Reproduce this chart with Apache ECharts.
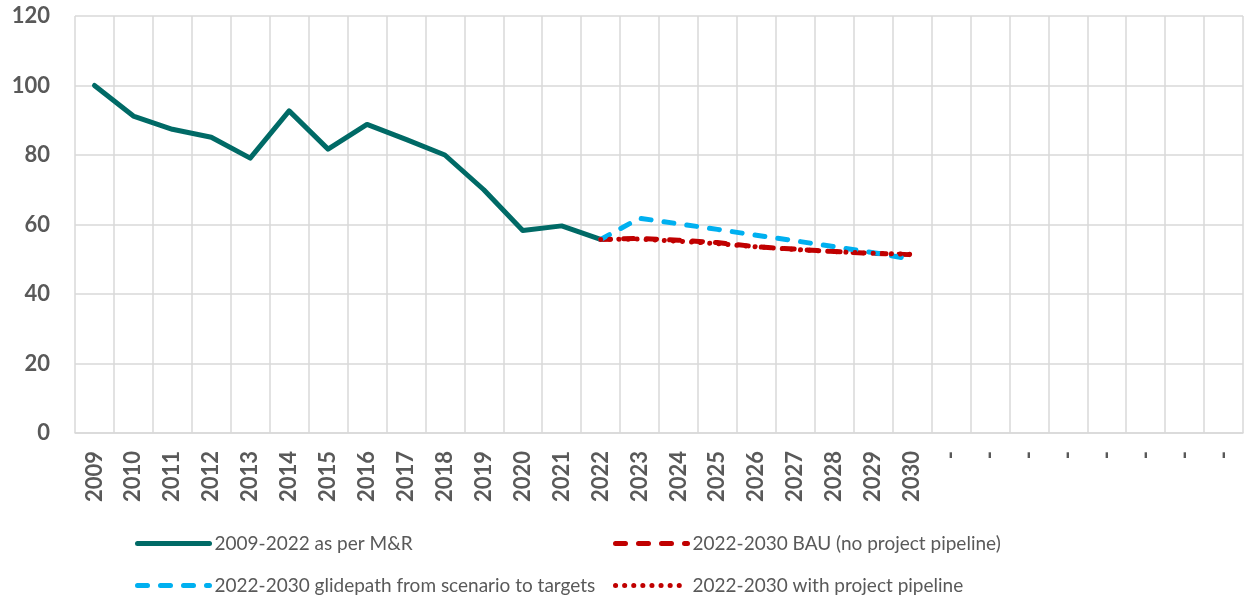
<!DOCTYPE html>
<html>
<head>
<meta charset="utf-8">
<title>Chart</title>
<script src="https://cdn.jsdelivr.net/npm/echarts@6/dist/echarts.min.js"></script>
<style>
	html, body { margin: 0; padding: 0; background: #fff; }
	#chart { width: 1244px; height: 601px; }
</style>
</head>
<body>
<div id="chart"></div>
<script>
	'use strict';
	// x axis: 2009-2030 followed by 8 empty slots
	var years = ['2009', '2010', '2011', '2012', '2013', '2014', '2015', '2016', '2017', '2018', '2019',
		'2020', '2021', '2022', '2023', '2024', '2025', '2026', '2027', '2028', '2029', '2030',
		'-', '-', '-', '-', '-', '-', '-', '-'];

	var mrValues = [100, 91.2, 87.4, 85.1, 79.1, 92.7, 81.7, 88.8, 84.5, 80.0, 70.0, 58.3, 59.6, 55.7];
	var bauValues = [55.7, 56.0, 55.5, 54.8, 53.6, 52.9, 52.2, 51.7, 51.3];
	var glideValues = [55.7, 61.8, 60.2, 58.6, 56.9, 55.3, 53.6, 51.9, 50.0];
	var pipelineValues = [55.7, 55.8, 55.2, 54.5, 53.6, 52.8, 52.2, 51.7, 51.4];

	var yTicks = { min: 0, max: 120, interval: 20 };

	var names = [
		'2009-2022 as per M&R',
		'2022-2030 BAU (no project pipeline)',
		'2022-2030 glidepath from scenario to targets',
		'2022-2030 with project pipeline'
	];

	// put a series on the year axis starting at a given year
	function place(values, startYear) {
		var out = [];
		var start = years.indexOf(startYear);
		for (var i = 0; i < years.length; i++) {
			var k = i - start;
			out.push(k >= 0 && k < values.length ? values[k] : null);
		}
		return out;
	}

	var gridColor = '#d9d9d9';
	var labelFont = 'Lato, "Liberation Sans", sans-serif';
	var lineWidth = 5;

	function legendAt(name, left, top) {
		return {
			data: [name],
			left: left,
			top: top,
			itemWidth: 72,
			itemHeight: 14,
			itemGap: 0,
			padding: 0,
			itemStyle: { opacity: 0 },
			lineStyle: { width: lineWidth, cap: 'round' },
			textStyle: {
				fontFamily: labelFont,
				fontSize: 19,
				color: '#595959'
			}
		};
	}

	function lineSeries(name, data, color, type, z) {
		return {
			name: name,
			type: 'line',
			data: data,
			symbol: 'none',
			z: z,
			connectNulls: false,
			lineStyle: {
				color: color,
				width: lineWidth,
				type: type,
				cap: 'round',
				join: 'round'
			},
			itemStyle: { color: color }
		};
	}

	var chart = echarts.init(document.getElementById('chart'));
	chart.setOption({
		animation: false,
		grid: {
			left: 75,
			right: 1,
			top: 16,
			bottom: 168
		},
		legend: [
			legendAt(names[0], 135, 534),
			legendAt(names[1], 613, 534),
			legendAt(names[2], 135, 576),
			legendAt(names[3], 613, 576)
		],
		xAxis: {
			type: 'category',
			data: years,
			boundaryGap: true,
			axisLine: { lineStyle: { color: gridColor, width: 1.5 } },
			axisTick: { show: false },
			splitLine: {
				show: true,
				interval: 0,
				lineStyle: { color: gridColor, width: 1.5 }
			},
			axisLabel: {
				interval: 0,
				rotate: 90,
				margin: 18,
				fontFamily: labelFont,
				fontWeight: 'bold',
				fontSize: 22,
				color: '#595959'
			}
		},
		yAxis: {
			type: 'value',
			min: yTicks.min,
			max: yTicks.max,
			interval: yTicks.interval,
			axisLine: { show: false },
			axisTick: { show: false },
			splitLine: { lineStyle: { color: gridColor, width: 1.5 } },
			axisLabel: {
				margin: 25,
				fontFamily: labelFont,
				fontWeight: 'bold',
				fontSize: 22,
				color: '#595959'
			}
		},
		series: [
			lineSeries(names[0], place(mrValues, '2009'), '#006a66', 'solid', 4),
			lineSeries(names[1], place(bauValues, '2022'), '#c00000', [10, 13], 3),
			lineSeries(names[2], place(glideValues, '2022'), '#00b0f0', [10, 13], 5),
			lineSeries(names[3], place(pipelineValues, '2022'), '#c00000', [0.1, 9], 6)
		]
	});
</script>
</body>
</html>
